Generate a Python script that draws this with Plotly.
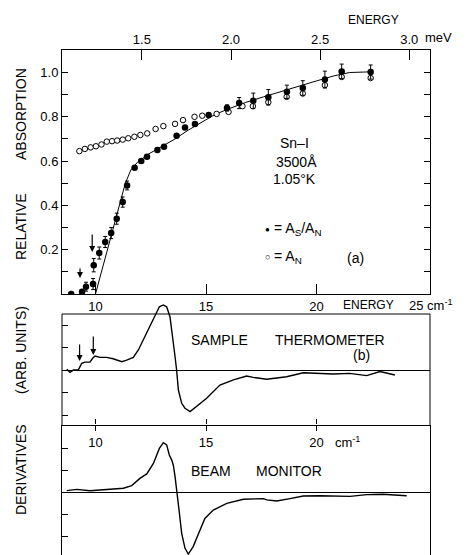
import plotly.graph_objects as go

W, H = 469, 555
CM_PER_MEV = 8.0655

# ---------------- data: panel (a) ----------------
filled_x = [8.9, 9.39, 9.57, 9.89, 9.92, 10.17, 10.44, 10.71, 10.96, 11.23, 11.43, 11.77, 12.07,
            12.33, 12.80, 13.10, 13.67, 14.05, 14.50, 15.12, 15.95, 16.50, 17.14, 17.82, 18.66,
            19.38, 20.38, 21.14, 22.45]
filled_y = [0.00, 0.01, 0.033, 0.045, 0.13, 0.185, 0.235, 0.275, 0.34, 0.415, 0.49, 0.57, 0.60,
            0.62, 0.65, 0.665, 0.715, 0.752, 0.768, 0.808, 0.84, 0.862, 0.872, 0.888, 0.913,
            0.93, 0.968, 1.005, 1.002]
filled_err = [0, 0, 0.02, 0.025, 0.03, 0.027, 0.025, 0.025, 0.025, 0.023, 0.02, 0, 0,
              0, 0, 0, 0, 0, 0, 0, 0.014, 0.025, 0.035, 0.035, 0.03,
              0.033, 0.038, 0.033, 0.032]

open_x = [9.27, 9.52, 9.78, 10.02, 10.27, 10.51, 10.75, 10.98, 11.23, 11.48, 11.76, 12.03, 12.34,
          12.72, 13.07, 13.60, 13.96, 14.48, 14.83, 15.48, 16.02, 16.65, 17.12, 17.82, 18.65,
          19.38, 20.38, 21.14, 22.45]
open_y = [0.645, 0.655, 0.662, 0.667, 0.675, 0.688, 0.69, 0.693, 0.697, 0.703, 0.71, 0.718, 0.725,
          0.745, 0.758, 0.768, 0.785, 0.80, 0.805, 0.813, 0.822, 0.848, 0.848, 0.866, 0.89,
          0.905, 0.943, 0.98, 0.975]

fit_x = [10.0, 10.5, 11.0, 11.35, 11.6, 11.9, 12.4, 13.0, 13.6, 14.2, 14.8, 15.4, 16.0, 16.8,
         17.6, 18.4, 19.2, 20.0, 20.8, 21.5, 22.45]
fit_y = [0.0, 0.19, 0.38, 0.50, 0.56, 0.595, 0.632, 0.665, 0.70, 0.74, 0.775, 0.81, 0.835, 0.865,
         0.89, 0.915, 0.94, 0.962, 0.985, 1.0, 1.003]

# ---------------- data: panel (b) sample thermometer ----------------
samp_x = [8.70, 8.85, 9.0, 9.22, 9.30, 9.38, 9.52, 9.75, 9.87, 9.98, 10.2, 10.5, 10.8, 11.19, 11.41,
          11.71, 11.94, 12.16, 12.47, 12.69, 12.89, 13.07, 13.22, 13.37, 13.52, 13.60, 13.67,
          13.75, 13.90, 14.05, 14.28, 14.58, 15.03, 15.63, 16.24, 16.84, 17.14, 17.75, 18.65,
          19.4, 20.0, 20.76, 21.5, 22.27, 22.87, 23.55]
samp_y = [0.03, -0.1, 0.0, 0.0, 0.15, 0.3, 0.35, 0.35, 0.52, 0.62, 0.56, 0.56, 0.5, 0.37, 0.44,
          0.56, 0.89, 1.33, 1.93, 2.44, 2.81, 2.89, 2.81, 2.37, 1.33, 0.59, 0.0,
          -0.89, -1.48, -1.7, -1.85, -1.63, -1.26, -0.67, -0.44, -0.27, -0.33, -0.41, -0.3,
          -0.12, -0.15, -0.18, -0.15, -0.25, -0.07, -0.22]

# ---------------- data: panel (c) beam monitor ----------------
beam_x = [8.70, 9.15, 9.75, 10.5, 11.26, 11.64, 12.01, 12.32, 12.62, 12.89, 13.07, 13.22, 13.34,
          13.45, 13.52, 13.60, 13.67, 13.78, 13.90, 14.05, 14.20, 14.42, 14.73, 14.95, 15.33,
          15.94, 16.69, 17.6, 17.75, 18.2, 18.8, 19.4, 20.16, 20.76, 21.52, 22.27, 23.0, 24.08]
beam_y = [0.06, 0.12, 0.06, 0.12, 0.17, 0.29, 0.62, 0.82, 1.3, 1.98, 2.24, 2.14, 1.68,
          1.45, 1.23, 0.7, 0.0, -0.82, -1.88, -2.56, -2.82, -2.48, -1.73, -1.2, -0.82,
          -0.52, -0.33, -0.3, -0.36, -0.41, -0.3, -0.18, -0.17, -0.18, -0.2, -0.12, -0.1, -0.17]

cm_ticks = [10, 15, 20]
mev_ticks = [1.5, 2.0, 2.5, 3.0]
mev_labels = ["1.5", "2.0", "2.5", "3.0"]
abs_ticks = [0.2, 0.4, 0.6, 0.8, 1.0]
abs_labels = ["0.2", "0.4", "0.6", "0.8", "1.0"]
abs_minor = [0.1, 0.3, 0.5, 0.7, 0.9]
deriv_ticks = [-2, -1, 1, 2]

# ---------------- geometry helpers (pixels -> paper) ----------------
def px(x):
    return x / W

def py(y):
    return 1 - y / H

X_LEFT, X_RIGHT = 62, 430
X_RANGE = [10 - (95.5 - X_LEFT) / 22.1, 10 + (X_RIGHT - 95.5) / 22.1]
XDOM = [px(X_LEFT), px(X_RIGHT)]

FONT = "Liberation Sans, Arial, Helvetica, sans-serif"
BLACK = "black"

fig = go.Figure()

# panel (a)
fig.add_trace(go.Scatter(x=fit_x, y=fit_y, mode="lines", line=dict(color=BLACK, width=1),
                         xaxis="x", yaxis="y", hoverinfo="skip", showlegend=False))
fig.add_trace(go.Scatter(x=open_x, y=open_y, mode="markers",
                         marker=dict(symbol="circle", size=5.5, color="white",
                                     line=dict(color=BLACK, width=1)),
                         xaxis="x", yaxis="y", showlegend=False))
fig.add_trace(go.Scatter(x=filled_x, y=filled_y, mode="markers",
                         marker=dict(symbol="circle", size=6.5, color=BLACK),
                         error_y=dict(type="data", array=filled_err, color=BLACK,
                                      thickness=1, width=2),
                         xaxis="x", yaxis="y", showlegend=False))
# dummy trace for the meV axis
fig.add_trace(go.Scatter(x=[None], y=[None], xaxis="x2", yaxis="y", showlegend=False,
                         hoverinfo="skip"))
# panel (b)
fig.add_trace(go.Scatter(x=samp_x, y=samp_y, mode="lines", line=dict(color=BLACK, width=1.4),
                         xaxis="x3", yaxis="y2", showlegend=False))
# panel (c)
fig.add_trace(go.Scatter(x=beam_x, y=beam_y, mode="lines", line=dict(color=BLACK, width=1.4),
                         xaxis="x4", yaxis="y3", showlegend=False))

tickfont = dict(family=FONT, size=13, color=BLACK)
common_x = dict(range=X_RANGE, domain=XDOM, showgrid=False, zeroline=False,
                linecolor=BLACK, linewidth=1, tickcolor=BLACK, tickwidth=1, tickfont=tickfont)

a_bot, a_top = 294, 50
b_bot, b_top_dom, b_zero = 425, 300, 370
c_bot, c_top, c_zero = 555, 425, 492

fig.update_layout(
    width=W, height=H, margin=dict(l=0, r=0, t=0, b=0),
    paper_bgcolor="white", plot_bgcolor="rgba(0,0,0,0)",
    font=dict(family=FONT, size=13, color=BLACK),
    xaxis=dict(**common_x, anchor="y", showline=True, ticks="inside", ticklen=10,
               tickvals=cm_ticks, ticktext=[str(v) for v in cm_ticks]),
    xaxis2=dict(range=[X_RANGE[0] / CM_PER_MEV, X_RANGE[1] / CM_PER_MEV], domain=XDOM,
                overlaying="x", side="top", anchor="y", showgrid=False, zeroline=False,
                showline=True, linecolor=BLACK, linewidth=1, ticks="inside", ticklen=10,
                tickcolor=BLACK, tickvals=mev_ticks, ticktext=mev_labels, tickfont=tickfont),
    yaxis=dict(domain=[py(a_bot), py(a_top)], range=[0, (a_bot - a_top) / 221.5],
               anchor="x", showgrid=False, zeroline=False, showline=True, mirror="ticks",
               linecolor=BLACK, linewidth=1, ticks="inside", ticklen=6, tickcolor=BLACK,
               tickvals=abs_ticks, ticktext=abs_labels, tickfont=tickfont,
               minor=dict(tickvals=abs_minor, ticks="inside", ticklen=6,
                          tickcolor=BLACK, showgrid=False)),
    xaxis3=dict(**common_x, anchor="y2", showline=True, ticks="outside", ticklen=5,
                tickvals=cm_ticks, ticktext=[str(v) for v in cm_ticks]),
    yaxis2=dict(domain=[py(b_bot), py(b_top_dom)],
                range=[(b_zero - b_bot) / 22.5, (b_zero - b_top_dom) / 22.5],
                anchor="x3", showgrid=False, zeroline=True, zerolinecolor=BLACK,
                zerolinewidth=1, showline=False, ticks="inside", ticklen=6, tickcolor=BLACK,
                tickvals=deriv_ticks, showticklabels=False),
    xaxis4=dict(**common_x, anchor="y3", side="top", showline=False, ticks="outside",
                ticklen=5, tickvals=cm_ticks, showticklabels=False),
    yaxis3=dict(domain=[0, py(c_top)],
                range=[(c_zero - c_bot) / 22.0, (c_zero - c_top) / 22.0],
                anchor="x4", showgrid=False, zeroline=True, zerolinecolor=BLACK,
                zerolinewidth=1, showline=True, mirror=True, linecolor=BLACK, linewidth=1,
                ticks="inside", ticklen=6, tickcolor=BLACK, tickvals=deriv_ticks,
                showticklabels=False),
)

# borders of panel (b)
line = dict(color=BLACK, width=1)
fig.add_shape(type="line", xref="paper", yref="paper", x0=px(X_LEFT), x1=px(X_RIGHT),
              y0=py(314), y1=py(314), line=line)
fig.add_shape(type="line", xref="paper", yref="paper", x0=px(X_LEFT), x1=px(X_LEFT),
              y0=py(314), y1=py(425), line=line)
fig.add_shape(type="line", xref="paper", yref="paper", x0=px(X_RIGHT), x1=px(X_RIGHT),
              y0=py(314), y1=py(425), line=line)


def label(text, x, y, size=13, xanchor="center", angle=0):
    fig.add_annotation(text=text, x=px(x), y=py(y), xref="paper", yref="paper",
                       showarrow=False, xanchor=xanchor, yanchor="middle", textangle=angle,
                       font=dict(family=FONT, size=size, color=BLACK))


label("ENERGY", 373, 20, 12)
label("meV", 423, 38, 13, xanchor="left")
label("ENERGY", 368, 305, 12)
label("25 cm<sup>-1</sup>", 407, 305, 13, xanchor="left")
label("cm<sup>-1</sup>", 333, 442, 13, xanchor="left")
label("RELATIVE", 21, 227, 14, angle=-90)
label("ABSORPTION", 21, 114, 14, angle=-90)
label("(ARB. UNITS)", 21, 350, 14, angle=-90)
label("DERIVATIVES", 21, 470, 14, angle=-90)
label("Sn\u2013I", 294, 143, 14)
label("3500\u00c5", 296, 162, 14)
label("1.05\u00b0K", 294, 179, 14)
label("\u25cf", 267, 229, 8)
label("= A<sub>S</sub>/A<sub>N</sub>", 272, 229, 14, xanchor="left")
label("\u25cb", 267, 257, 9)
label("= A<sub>N</sub>", 272, 257, 14, xanchor="left")
label("(a)", 355, 258, 14)
label("SAMPLE", 219, 340, 14)
label("THERMOMETER", 330, 340, 14)
label("(b)", 361, 355, 14)
label("BEAM", 211, 471, 14)
label("MONITOR", 289, 471, 14)

# arrows marking the gap features
def arrow(x, y, xaxis, yaxis, length):
    fig.add_annotation(x=x, y=y, xref=xaxis, yref=yaxis, ax=0, ay=-length, text="",
                       showarrow=True, arrowhead=2, arrowsize=1, arrowwidth=1.2,
                       arrowcolor=BLACK)

arrow(9.3, 0.072, "x", "y", 11)
arrow(9.85, 0.19, "x", "y", 19)
arrow(9.28, 0.40, "x3", "y2", 18)
arrow(9.9, 0.67, "x3", "y2", 20)

fig.write_html("out.html", config={"displayModeBar": False},
               post_script="document.body.style.margin='0';document.body.style.overflow='hidden';")
